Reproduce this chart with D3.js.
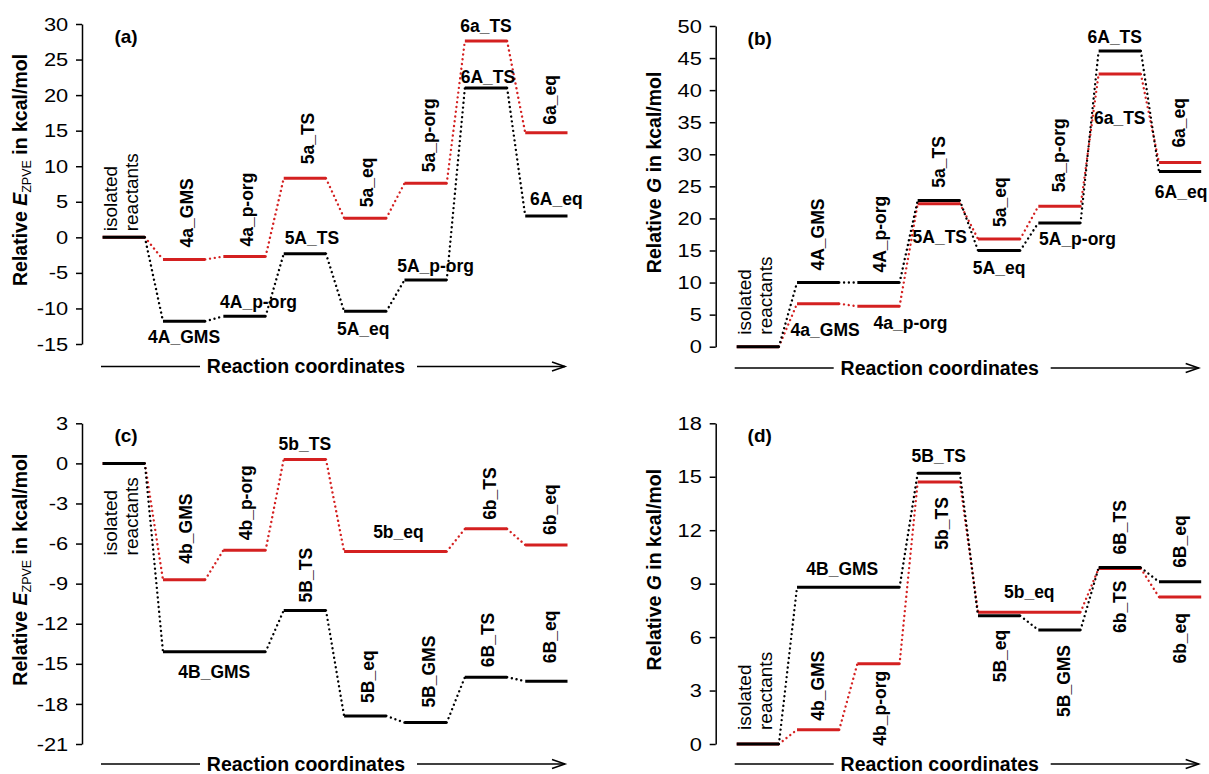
<!DOCTYPE html>
<html>
<head>
<meta charset="utf-8">
<script src="https://cdn.jsdelivr.net/npm/d3@7"></script>
<style>
  body { margin: 0; background: #fff; }
  svg text { font-family: Arial, "Liberation Sans", sans-serif; fill: #000; }
</style>
</head>
<body>
<svg id="chart" width="1209" height="774"></svg>
<script>
var width = 1209,
    height = 774;

var red = "#d42020";

// positions along the reaction coordinate (8 steps)
var steps = [0, 1, 2, 3, 4, 5, 6, 7];

// ---- panel (a): relative E_ZPVE, pathway A / a
var aTicks = [-15, -10, -5, 0, 5, 10, 15, 20, 25, 30];
var aBlackNames = ["isolated reactants", "4A_GMS", "4A_p-org", "5A_TS", "5A_eq", "5A_p-org", "6A_TS", "6A_eq"];
var aBlackValues = [0, -11.8, -11.1, -2.3, -10.4, -6.0, 21.0, 3.0];
var aBlackFrom = [0, 1, 2, 3, 4, 5, 6, 7];
var aBlackTo = [0, 1, 2, 3, 4, 5, 6, 7];
var aRedNames = ["", "4a_GMS", "4a_p-org", "5a_TS", "5a_eq", "5a_p-org", "6a_TS", "6a_eq"];
var aRedValues = [0, -3.1, -2.7, 8.3, 2.7, 7.6, 27.6, 14.7];
var aRedFrom = [0, 1, 2, 3, 4, 5, 6, 7];
var aRedTo = [0, 1, 2, 3, 4, 5, 6, 7];

// ---- panel (b): relative G, pathway A / a
var bTicks = [0, 5, 10, 15, 20, 25, 30, 35, 40, 45, 50];
var bBlackNames = ["isolated reactants", "4A_GMS", "4A_p-org", "5A_TS", "5A_eq", "5A_p-org", "6A_TS", "6A_eq"];
var bBlackValues = [0, 10.0, 10.0, 22.8, 15.0, 19.3, 46.1, 27.3];
var bBlackFrom = [0, 1, 2, 3, 4, 5, 6, 7];
var bBlackTo = [0, 1, 2, 3, 4, 5, 6, 7];
var bRedNames = ["", "4a_GMS", "4a_p-org", "5a_TS", "5a_eq", "5a_p-org", "6a_TS", "6a_eq"];
var bRedValues = [0, 6.7, 6.3, 22.3, 16.8, 21.9, 42.5, 28.7];
var bRedFrom = [0, 1, 2, 3, 4, 5, 6, 7];
var bRedTo = [0, 1, 2, 3, 4, 5, 6, 7];

// ---- panel (c): relative E_ZPVE, pathway B / b
var cTicks = [-21, -18, -15, -12, -9, -6, -3, 0, 3];
var cBlackNames = ["isolated reactants", "4B_GMS", "5B_TS", "5B_eq", "5B_GMS", "6B_TS", "6B_eq"];
var cBlackValues = [0, -14.1, -11.0, -18.9, -19.4, -16.0, -16.3];
var cBlackFrom = [0, 1, 3, 4, 5, 6, 7];
var cBlackTo = [0, 2, 3, 4, 5, 6, 7];
var cRedNames = ["", "4b_GMS", "4b_p-org", "5b_TS", "5b_eq", "6b_TS", "6b_eq"];
var cRedValues = [0, -8.7, -6.5, 0.3, -6.6, -4.9, -6.1];
var cRedFrom = [0, 1, 2, 3, 4, 6, 7];
var cRedTo = [0, 1, 2, 3, 5, 6, 7];

// ---- panel (d): relative G, pathway B / b
var dTicks = [0, 3, 6, 9, 12, 15, 18];
var dBlackNames = ["isolated reactants", "4B_GMS", "5B_TS", "5B_eq", "5B_GMS", "6B_TS", "6B_eq"];
var dBlackValues = [0, 8.8, 15.2, 7.2, 6.4, 9.9, 9.1];
var dBlackFrom = [0, 1, 3, 4, 5, 6, 7];
var dBlackTo = [0, 2, 3, 4, 5, 6, 7];
var dRedNames = ["", "4b_GMS", "4b_p-org", "5b_TS", "5b_eq", "6b_TS", "6b_eq"];
var dRedValues = [0, 0.8, 4.5, 14.7, 7.4, 9.85, 8.25];
var dRedFrom = [0, 1, 2, 3, 4, 6, 7];
var dRedTo = [0, 1, 2, 3, 5, 6, 7];

// label placement: [mode, offset, dx]
//  "h"  horizontal, centred at level + offset
//  "up" rotated, starting offset px above the level
//  "dn" rotated, ending offset px below the level
//  "iso" two rotated lines starting at level + offset
var aBlackPlace = [["iso", -6, 0], ["h", 16, 0], ["h", -14, 14], ["h", -16, 7], ["h", 18, -2], ["h", -14, 10], ["h", -11, 2], ["h", -17, 10]];
var aRedPlace = [null, ["up", 12, 3], ["up", 10, 2], ["up", 14, 3], ["up", 11, 2], ["up", 11, 3], ["h", -15, 0], ["up", 8, 4]];
var bBlackPlace = [["iso", -12, 0], ["up", 12, 0], ["up", 10, 1], ["h", 36, 1], ["h", 17, 0], ["h", 16, 18], ["h", -14, -5], ["h", 20, 1]];
var bRedPlace = [null, ["h", 26, 7], ["h", 17, 32], ["up", 16, 0], ["up", 12, 1], ["up", 14, -1], ["h", 44, 0], ["up", 15, -1]];
var cBlackPlace = [["iso", 92, 0], ["h", 20, 0], ["up", 8, 1], ["up", 13, 3], ["up", 15, 3], ["up", 10, 2], ["up", 18, 4]];
var cRedPlace = [null, ["up", 16, 2], ["up", 10, 1], ["h", -16, 0], ["h", -20, 3], ["up", 9, 4], ["up", 10, 4]];
var dBlackPlace = [["iso", -14, 0], ["h", -18, -6], ["h", -17, 0], ["dn", 14, 1], ["dn", 15, 4], ["up", 13, 0], ["up", 14, 0]];
var dRedPlace = [null, ["up", 9, 0], ["dn", 7, 1], ["dn", 15, 3], ["h", -20, 0], ["dn", 12, 0], ["dn", 16, 0]];

var svg = d3.select("#chart");

var panels = [
  {tag: "(a)", title: "E", sub: "ZPVE", axisX: 82, top: 24, bottom: 344, x0: 102.6, x1: 567.5, arrowY: 366.5,
    domain: [-15, 30], ticks: aTicks,
    black: {names: aBlackNames, values: aBlackValues, from: aBlackFrom, to: aBlackTo, place: aBlackPlace},
    red: {names: aRedNames, values: aRedValues, from: aRedFrom, to: aRedTo, place: aRedPlace}},
  {tag: "(b)", title: "G", sub: null, axisX: 715.7, top: 26, bottom: 346.7, x0: 736.7, x1: 1201.2, arrowY: 368,
    domain: [0, 50], ticks: bTicks,
    black: {names: bBlackNames, values: bBlackValues, from: bBlackFrom, to: bBlackTo, place: bBlackPlace},
    red: {names: bRedNames, values: bRedValues, from: bRedFrom, to: bRedTo, place: bRedPlace}},
  {tag: "(c)", title: "E", sub: "ZPVE", axisX: 82, top: 423.3, bottom: 744, x0: 102.6, x1: 567.5, arrowY: 764,
    domain: [-21, 3], ticks: cTicks,
    black: {names: cBlackNames, values: cBlackValues, from: cBlackFrom, to: cBlackTo, place: cBlackPlace},
    red: {names: cRedNames, values: cRedValues, from: cRedFrom, to: cRedTo, place: cRedPlace}},
  {tag: "(d)", title: "G", sub: null, axisX: 715.7, top: 423.3, bottom: 744, x0: 736.7, x1: 1201.2, arrowY: 764,
    domain: [0, 18], ticks: dTicks,
    black: {names: dBlackNames, values: dBlackValues, from: dBlackFrom, to: dBlackTo, place: dBlackPlace},
    red: {names: dRedNames, values: dRedValues, from: dRedFrom, to: dRedTo, place: dRedPlace}}
];

panels.forEach(drawPanel);

function drawPanel(p) {
  var g = svg.append("g");

  var y = d3.scaleLinear().domain(p.domain).range([p.bottom, p.top]);
  var x = d3.scaleBand().domain(steps).range([p.x0, p.x1])
      .paddingInner(0.3).paddingOuter(0);

  // y axis
  var ax = g.append("g")
      .attr("transform", "translate(" + p.axisX + ",0)")
      .call(d3.axisLeft(y)
          .tickValues(p.ticks)
          .tickSize(6)
          .tickSizeOuter(0)
          .tickPadding(6)
          .tickFormat(function(d) { return String(d); }));
  ax.select(".domain").attr("stroke", "#000").attr("stroke-width", 1.5);
  ax.selectAll(".tick line").attr("stroke", "#000").attr("stroke-width", 1.5);
  ax.selectAll(".tick text")
      .attr("font-size", 19)
      .attr("font-family", "Arial, 'Liberation Sans', sans-serif")
      .attr("fill", "#000")
      .attr("transform", "scale(1.15,1)");

  // axis title
  var ty = (p.top + p.bottom) / 2 - 14;
  var title = g.append("text")
      .attr("transform", "translate(" + (p.axisX - 62) + "," + ty + ") rotate(-90)")
      .attr("text-anchor", "middle")
      .attr("dy", "0.35em")
      .attr("font-size", 19.5)
      .attr("font-weight", "bold");
  title.append("tspan").text("Relative ");
  title.append("tspan").attr("font-style", "italic").text(p.title);
  if (p.sub) {
    title.append("tspan").attr("font-size", 12.5).attr("font-weight", "normal").attr("dy", 4).text(p.sub);
    title.append("tspan").attr("dy", -4).text(" in kcal/mol");
  } else {
    title.append("tspan").text(" in kcal/mol");
  }

  // panel tag
  g.append("text")
      .attr("x", p.axisX + 44)
      .attr("y", p.top + 12)
      .attr("dy", "0.35em")
      .attr("text-anchor", "middle")
      .attr("font-size", 19)
      .attr("font-weight", "bold")
      .text(p.tag);

  // reaction coordinate arrow
  var ax0 = p.axisX + 19,
      ax1 = p.axisX + 483,
      tc = p.axisX + 224;
  var arrow = g.append("g").attr("stroke", "#000").attr("stroke-width", 1.5).attr("fill", "none");
  arrow.append("line").attr("x1", ax0).attr("x2", tc - 106).attr("y1", p.arrowY).attr("y2", p.arrowY);
  arrow.append("line").attr("x1", tc + 111).attr("x2", ax1).attr("y1", p.arrowY).attr("y2", p.arrowY);
  arrow.append("path")
      .attr("d", "M" + (ax1 - 13) + "," + (p.arrowY - 4.5) + "L" + ax1 + "," + p.arrowY + "L" + (ax1 - 13) + "," + (p.arrowY + 4.5));
  g.append("text")
      .attr("x", tc)
      .attr("y", p.arrowY)
      .attr("dy", "0.34em")
      .attr("text-anchor", "middle")
      .attr("font-size", 19.5)
      .attr("font-weight", "bold")
      .text("Reaction coordinates");

  // energy levels, red pathway first so black sits on top
  drawSeries(g, p.red, red, x, y);
  drawSeries(g, p.black, "#000", x, y);
}

function drawSeries(g, s, color, x, y) {
  var levels = s.values.map(function(v, i) {
    return {name: s.names[i], value: v, from: s.from[i], to: s.to[i], place: s.place[i]};
  });

  g.append("g").selectAll("line")
      .data(d3.pairs(levels))
      .enter().append("line")
      .attr("x1", function(d) { return x(d[0].to) + x.bandwidth(); })
      .attr("y1", function(d) { return y(d[0].value); })
      .attr("x2", function(d) { return x(d[1].from); })
      .attr("y2", function(d) { return y(d[1].value); })
      .attr("stroke", color)
      .attr("stroke-width", 2.4)
      .attr("stroke-linecap", "round")
      .attr("stroke-dasharray", "0.01 4.8");

  g.append("g").selectAll("line")
      .data(levels)
      .enter().append("line")
      .attr("x1", function(d) { return x(d.from); })
      .attr("x2", function(d) { return x(d.to) + x.bandwidth(); })
      .attr("y1", function(d) { return y(d.value); })
      .attr("y2", function(d) { return y(d.value); })
      .attr("stroke", color)
      .attr("stroke-width", 3);

  levels.forEach(function(d) {
    if (!d.place) return;
    var cx = (x(d.from) + x(d.to) + x.bandwidth()) / 2 + d.place[2],
        ly = y(d.value),
        mode = d.place[0],
        off = d.place[1];

    if (mode === "h") {
      g.append("text")
          .attr("x", cx).attr("y", ly + off)
          .attr("dy", "0.35em")
          .attr("text-anchor", "middle")
          .attr("font-size", 17.5)
          .attr("font-weight", "bold")
          .text(d.name);
    } else if (mode === "up" || mode === "dn") {
      g.append("text")
          .attr("transform", "translate(" + cx + "," + (mode === "up" ? ly - off : ly + off) + ") rotate(-90)")
          .attr("dy", "0.35em")
          .attr("text-anchor", mode === "up" ? "start" : "end")
          .attr("font-size", 17.5)
          .attr("font-weight", "bold")
          .text(d.name);
    } else if (mode === "iso") {
      d.name.split(" ").forEach(function(w, i) {
        g.append("text")
            .attr("transform", "translate(" + (cx - 13.5 + i * 21) + "," + (ly + off) + ") rotate(-90)")
            .attr("dy", "0.35em")
            .attr("text-anchor", "start")
            .attr("font-size", 19)
            .text(w);
      });
    }
  });
}
</script>
</body>
</html>
